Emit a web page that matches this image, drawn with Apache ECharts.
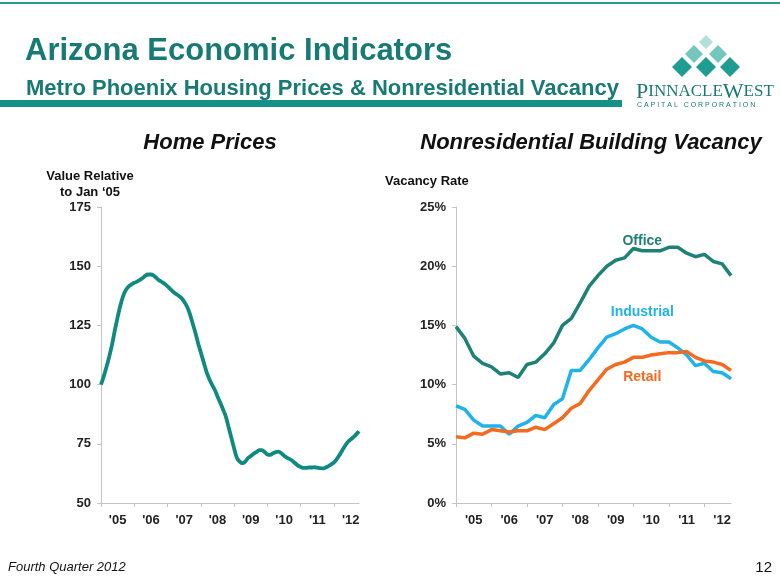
<!DOCTYPE html>
<html><head><meta charset="utf-8">
<script src="https://cdn.jsdelivr.net/npm/echarts@6/dist/echarts.min.js"></script>
<style>html,body{margin:0;padding:0;background:#fff}#c{width:780px;height:585px}</style>
</head><body><div id="c"></div>
<script>
// Home prices, monthly, Jan 2005 .. Oct 2012 (value relative to Jan '05 = 100)
const homePrices = [
 100,103.5,107.5,112,117,123,128.5,133.5,137.5,140,141.5,142.3,
 143,143.5,144.2,145,146,146.5,146.5,146,145,144,143.3,142.5,
 141.5,140.3,139.2,138.3,137.5,136.5,135,133,130,126,122,117.5,
 113.5,109.5,105.5,102.5,100,97.8,95,92.3,89.5,86.5,82,77.5,
 73,69,67.5,66.8,67.5,69,69.8,70.8,71.5,72.3,72.3,71.5,
 70.5,70.3,71,71.5,71.7,71,70,69.2,68.5,67.8,66.8,65.8,
 65.2,64.8,64.8,65,65,65.1,64.9,64.7,64.6,65,65.6,66.3,
 67.2,68.5,70.3,72.3,74.2,75.8,76.8,77.8,79,80.3
];
// Vacancy rates, quarterly, Q1 2005 .. Q4 2012 (%)
const officeVacancy = [14.9,13.9,12.4,11.8,11.5,10.9,11.0,10.6,11.7,11.9,12.6,13.5,15.0,15.6,16.9,18.3,19.2,20.0,20.5,20.7,21.5,21.3,21.3,21.3,21.6,21.6,21.1,20.8,21.0,20.4,20.2,19.2];
const industrialVacancy = [8.2,7.9,7.0,6.5,6.5,6.5,5.8,6.5,6.8,7.4,7.2,8.3,8.8,11.2,11.2,12.1,13.1,14.0,14.3,14.7,15.0,14.7,14.0,13.6,13.6,13.1,12.5,11.6,11.8,11.1,11.0,10.5];
const retailVacancy = [5.6,5.5,5.9,5.8,6.2,6.1,6.0,6.1,6.1,6.4,6.2,6.7,7.2,8.0,8.4,9.5,10.4,11.3,11.7,11.9,12.3,12.3,12.5,12.6,12.7,12.7,12.8,12.3,12.0,11.9,11.7,11.2];
const yearLabels = ["'05","'06","'07","'08","'09","'10","'11","'12"];
const homeTicks = [50,75,100,125,150,175];
const vacancyTicks = [0,5,10,15,20,25];

const FONT = '"Liberation Sans", Arial, sans-serif';
const homeData = homePrices.map((v,i)=>[i,v]);
const q = a => a.map((v,i)=>[i,v]);

function xAxisCfg(grid, perYear, maxV){
  const ticks = yearLabels.map((_,i)=>i*perYear);
  const labs = yearLabels.map((_,i)=>i*perYear+perYear/2);
  return {
    type:'value', gridIndex:grid, min:0, max:maxV,
    axisLine:{show:true, lineStyle:{color:'#c4c4c4', width:1}},
    axisTick:{show:true, length:4, inside:false, customValues:ticks, lineStyle:{color:'#c4c4c4'}},
    axisLabel:{show:true, customValues:labs, margin:11, fontFamily:FONT, fontWeight:'bold', fontSize:13, color:'#222',
      formatter:v=>yearLabels[Math.round((v-perYear/2)/perYear)] || ''},
    splitLine:{show:false}
  };
}
function yAxisCfg(grid, ticks, fmt){
  return {
    type:'value', gridIndex:grid, min:ticks[0], max:ticks[ticks.length-1], interval:ticks[1]-ticks[0],
    axisLine:{show:true, lineStyle:{color:'#c4c4c4', width:1}},
    axisTick:{show:true, length:4, lineStyle:{color:'#c4c4c4'}},
    axisLabel:{margin:10, fontFamily:FONT, fontWeight:'bold', fontSize:13, color:'#222', formatter:fmt},
    splitLine:{show:false}
  };
}

const chart = echarts.init(document.getElementById('c'), null, {renderer:'canvas'});

function diamond(cx, cy, r, color){
  return {type:'polygon', shape:{points:[[cx,cy-r],[cx+r,cy],[cx,cy+r],[cx-r,cy]]}, style:{fill:color}};
}

const staticGraphics = [
  {type:'rect', shape:{x:0,y:2,width:780,height:2}, style:{fill:'#2a9a92'}},
  {type:'rect', shape:{x:0,y:100,width:622,height:7}, style:{fill:'#169189'}},
  {type:'text', left:25, top:36, style:{text:'Arizona Economic Indicators', font:'bold 31px '+FONT, fill:'#177a74'}},
  {type:'text', left:26, top:78, style:{text:'Metro Phoenix Housing Prices & Nonresidential Vacancy', font:'bold 22px '+FONT, fill:'#177a74'}},
  // logo
  diamond(706,42,7,'#b3e0db'),
  diamond(694,54,9,'#74c6bf'), diamond(718,54,9,'#74c6bf'),
  diamond(682,67,10,'#1f9d93'), diamond(706,67,10,'#1f9d93'), diamond(730,67,10,'#1f9d93'),
  {type:'text', left:636, top:81, style:{text:'{b|P}{s|INNACLE}{b|W}{s|EST}', rich:{b:{font:'22px "Liberation Serif", serif', fill:'#177a74'}, s:{font:'17px "Liberation Serif", serif', fill:'#177a74'}}}},
  {type:'text', left:637, top:102, style:{text:'C A P I T A L   C O R P O R A T I O N', font:'7px '+FONT, fill:'#177a74'}},
  // panel titles
  {type:'text', x:210, y:143, style:{text:'Home Prices', font:'italic bold 22px '+FONT, fill:'#111', align:'center', verticalAlign:'middle'}},
  {type:'text', x:591, y:143, style:{text:'Nonresidential Building Vacancy', font:'italic bold 22px '+FONT, fill:'#111', align:'center', verticalAlign:'middle'}},
  {type:'text', x:90, y:184, style:{text:'Value Relative\nto Jan \u201805', font:'bold 13px '+FONT, lineHeight:16, fill:'#111', align:'center', verticalAlign:'middle'}},
  {type:'text', left:385, top:175, style:{text:'Vacancy Rate', font:'bold 13px '+FONT, fill:'#111'}},
  // footer
  {type:'text', left:8, top:561, style:{text:'Fourth Quarter 2012', font:'italic 13px '+FONT, fill:'#111'}},
  {type:'text', right:8, top:560, style:{text:'12', font:'15px '+FONT, fill:'#111'}}
];

chart.setOption({
  animation:false,
  backgroundColor:'#fff',
  grid:[
    {left:101, top:207, width:258, height:296},
    {left:456, top:207, width:275, height:296}
  ],
  xAxis:[xAxisCfg(0,12,93), xAxisCfg(1,4,31)],
  yAxis:[yAxisCfg(0,homeTicks,'{value}'), yAxisCfg(1,vacancyTicks,'{value}%')],
  series:[
    {name:'Home Prices', type:'line', xAxisIndex:0, yAxisIndex:0, data:homeData, smooth:0.3, showSymbol:false, lineStyle:{color:'#0f8a81', width:3.8}},
    {name:'Office', type:'line', xAxisIndex:1, yAxisIndex:1, data:q(officeVacancy), showSymbol:false, lineStyle:{color:'#1d8177', width:3.5}},
    {name:'Industrial', type:'line', xAxisIndex:1, yAxisIndex:1, data:q(industrialVacancy), showSymbol:false, lineStyle:{color:'#1eb3ea', width:3.5}},
    {name:'Retail', type:'line', xAxisIndex:1, yAxisIndex:1, data:q(retailVacancy), showSymbol:false, lineStyle:{color:'#f46a1e', width:3.5}}
  ],
  graphic: staticGraphics
});

// series labels anchored to data coordinates
const lab = (txt, xq, yv, color) => {
  const p = chart.convertToPixel({xAxisIndex:1, yAxisIndex:1}, [xq, yv]);
  return {type:'text', x:p[0], y:p[1], style:{text:txt, font:'bold 14px '+FONT, fill:color, align:'center', verticalAlign:'middle'}};
};
chart.setOption({graphic: staticGraphics.concat([
  lab('Office', 21, 22.15, '#1d8177'),
  lab('Industrial', 21, 16.1, '#1eb3ea'),
  lab('Retail', 21, 10.6, '#f46a1e')
])});
</script></body></html>
